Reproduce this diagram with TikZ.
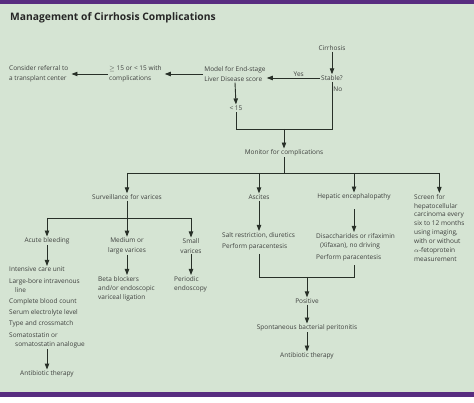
\documentclass[tikz,border=0pt]{standalone}
\usepackage{fontspec}
\setmainfont{Open Sans}
\usepackage{tikz}
\usetikzlibrary{arrows.meta}

\definecolor{bggreen}{RGB}{213,228,211}
\definecolor{bandpurple}{RGB}{88,45,128}
\definecolor{txtgray}{RGB}{62,64,62}
\definecolor{linegray}{RGB}{40,48,40}

\tikzset{
  txt/.style={inner sep=1pt, text=txtgray, font=\fontsize{6.5}{9.6}\selectfont},
  lst/.style={txt, align=left, anchor=north west},
  link/.style={linegray, line width=0.9pt},
  arr/.style={link, -{Triangle[length=6pt,width=4.4pt]}}
}

\begin{document}
\begin{tikzpicture}[x=1pt,y=-1pt]
\useasboundingbox (0,0) rectangle (474,403);
\fill[white] (0,0) rectangle (474,403);
\fill[bggreen] (0,4) rectangle (474,392);
\fill[bandpurple] (0,0) rectangle (474,4);
\fill[bandpurple] (0,392) rectangle (474,397);

\node[anchor=west, inner sep=0pt, text=black!85, font=\fontsize{10.3}{12}\selectfont\bfseries] (title) at (10,18) {Management of Cirrhosis Complications};

% top row
\node[txt] (cirr) at (332,48) {Cirrhosis};
\node[txt] (stable) at (332,78) {Stable?};
\node[txt, align=left] (meld) at (235,74) {Model for End-stage\\Liver Disease score};
\node[txt, align=left, anchor=west] (ge15) at (108,74) {$\geq$ 15 or < 15 with\\complications};
\node[txt, align=left, anchor=west] (refer) at (8,74) {Consider referral to\\a transplant center};
\node[txt] (lt15) at (236,108) {< 15};
\coordinate (j1) at (284,129);

\draw[arr] (cirr) -- (stable);
\draw[arr] (stable.west) -- node[txt, above, pos=0.4] {Yes} (meld.east |- stable.west);
\draw[arr] (meld.west |- ge15.east) -- ([xshift=2pt]ge15.east);
\draw[arr] (ge15.west |- refer.east) -- ([xshift=2pt]refer.east);
\draw[arr] (meld.south) -- (lt15.north);
\draw[link] (stable.south) -- node[txt, right, pos=0.15] {No} (stable.south |- j1) -- (lt15.south |- j1) -- (lt15.south);

% monitor
\node[txt] (mon) at (284,153) {Monitor for complications};
\coordinate (j2) at (284,173);
\draw[arr] (j1) -- (mon.north);
\draw[link] (mon.south) -- (j2);

\node[txt] (surv) at (127,197) {Surveillance for varices};
\node[txt] (asc) at (259,197) {Ascites};
\node[txt] (hep) at (354,197) {Hepatic encephalopathy};
\node[lst, font=\fontsize{6.5}{8.9}\selectfont] (screen) at (413,193) {Screen for\\hepatocellular\\carcinoma every\\six to 12 months\\using imaging,\\with or without\\$\alpha$-fetoprotein\\measurement};

\draw[link] (surv.north |- j2) -- (screen.north |- j2);
\draw[arr] (surv.north |- j2) -- (surv.north);
\draw[arr] (asc.north |- j2) -- (asc.north);
\draw[arr] (hep.north |- j2) -- (hep.north);
\draw[arr] (screen.north |- j2) -- (screen.north);

% varices
\coordinate (j3) at (127,218);
\node[txt] (acute) at (47,241) {Acute bleeding};
\node[txt, align=center] (medium) at (127,246) {Medium or\\large varices};
\node[txt, align=center] (small) at (191,246) {Small\\varices};
\draw[link] (surv.south) -- (j3);
\draw[link] (acute.north |- j3) -- (small.north |- j3);
\draw[arr] (acute.north |- j3) -- (acute.north);
\draw[arr] (j3) -- (medium.north);
\draw[arr] (small.north |- j3) -- (small.north);

\node[lst, font=\fontsize{6.5}{9.2}\selectfont] (icu) at (8,266) {Intensive care unit\\[2pt]Large-bore intravenous\\\hspace*{6pt}line\\[2pt]Complete blood count\\[2pt]Serum electrolyte level\\[2pt]Type and crossmatch\\[2pt]Somatostatin or\\\hspace*{6pt}somatostatin analogue};
\node[txt] (anti1) at (47,374) {Antibiotic therapy};
\draw[arr] (acute.south) -- (acute.south |- icu.north);
\draw[arr] (anti1.north |- icu.south) -- (anti1.north);

\node[lst, font=\fontsize{6.5}{9.2}\selectfont] (beta) at (97,275) {Beta blockers\\and/or endoscopic\\variceal ligation};
\node[lst, font=\fontsize{6.5}{9.2}\selectfont] (periodic) at (173,275) {Periodic\\endoscopy};
\draw[arr] (medium.south) -- (medium.south |- beta.north);
\draw[arr] (small.south) -- (small.south |- periodic.north);

% ascites and encephalopathy
\node[lst] (salt) at (221,231) {Salt restriction, diuretics\\[1.5pt]Perform paracentesis};
\node[lst, font=\fontsize{6.5}{9.2}\selectfont] (disacc) at (315,232) {Disaccharides or rifaximin\\\hspace*{4pt}(Xifaxan), no driving\\[2.5pt]Perform paracentesis};
\draw[arr] (asc.south) -- (asc.south |- salt.north);
\draw[arr] ([yshift=-8pt]hep.south) -- (hep.south |- disacc.north);

\coordinate (j4) at (307,277);
\node[txt] (pos) at (307,301) {Positive};
\node[txt] (sbp) at (307,328) {Spontaneous bacterial peritonitis};
\node[txt] (anti2) at (307,356) {Antibiotic therapy};
\draw[link] ([yshift=-3pt]asc.south |- salt.south) -- (asc.south |- j4) -- (hep.south |- j4) -- ([yshift=-3pt]hep.south |- disacc.south);
\draw[arr] (j4) -- (pos.north);
\draw[arr] (pos.south) -- (sbp.north);
\draw[arr] (sbp.south) -- (anti2.north);
\end{tikzpicture}
\end{document}
